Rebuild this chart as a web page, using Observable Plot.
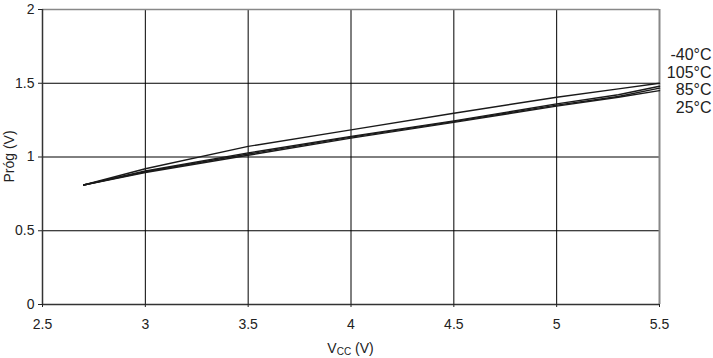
<!DOCTYPE html>
<html><head><meta charset="utf-8">
<script src="https://cdn.jsdelivr.net/npm/d3@7"></script>
<script src="https://cdn.jsdelivr.net/npm/@observablehq/plot@0.6"></script>
<style>
body{margin:0;background:#fff;}
#chart svg{display:block;}
</style>
</head><body><div id="chart"></div>
<script>
const vcc = [2.7, 3, 3.5, 4, 4.5, 5, 5.3, 5.5];
const seriesNames = ["-40°C", "105°C", "85°C", "25°C"];
const vMinus40 = [0.81, 0.92, 1.072, 1.184, 1.297, 1.405, 1.462, 1.5];
const v105 = [0.81, 0.905, 1.028, 1.14, 1.245, 1.36, 1.422, 1.48];
const v85 = [0.81, 0.9, 1.02, 1.135, 1.24, 1.352, 1.41, 1.467];
const v25 = [0.81, 0.895, 1.012, 1.128, 1.235, 1.345, 1.405, 1.45];
const xTicks = [2.5, 3, 3.5, 4, 4.5, 5, 5.5];
const yTicks = [0, 0.5, 1, 1.5, 2];

const allSeries = [vMinus40, v105, v85, v25];
const data = [];
allSeries.forEach((vals, s) => vals.forEach((v, i) => data.push({series: seriesNames[s], x: vcc[i], y: v})));

const font = "'Liberation Sans', Arial, sans-serif";
const narrow = "'Liberation Sans Narrow', 'Liberation Sans', Arial, sans-serif";
const W = 713, H = 358;
const mL = 42, mR = 54, mT = 9, mB = 54;

const labelMarks = seriesNames.map((name, i) => Plot.text([name], {
  frameAnchor: "top-right", text: d => d, dx: 52, dy: 39 + i * 17.7,
  fontSize: 16, fill: "#222", textAnchor: "end"
}));

const chart = Plot.plot({
  width: W, height: H,
  marginLeft: mL, marginRight: mR, marginTop: mT, marginBottom: mB,
  style: {fontFamily: font, fontSize: "13px", color: "#222", background: "#fff"},
  x: {domain: [2.5, 5.5], ticks: xTicks, tickFormat: d => String(d), label: null, tickSize: 3, tickPadding: 12},
  y: {domain: [0, 2], ticks: yTicks, tickFormat: d => String(d), label: null, tickSize: 4, tickPadding: 4},
  marks: [
    Plot.gridX(xTicks, {stroke: "#000", strokeOpacity: 1, strokeWidth: 1}),
    Plot.gridY(yTicks, {stroke: "#000", strokeOpacity: 1, strokeWidth: 1}),
    Plot.ruleY([2], {stroke: "#888", strokeWidth: 1.5}),
    Plot.ruleX([5.5], {stroke: "#888", strokeWidth: 2}),
    Plot.ruleX([2.5], {stroke: "#333", strokeWidth: 1.5}),
    Plot.ruleY([0], {stroke: "#333", strokeWidth: 1.5}),
    Plot.line(data, {x: "x", y: "y", z: "series", stroke: "#1a1a1a", strokeWidth: 1.4}),
    Plot.axisX(xTicks, {tickSize: 3, tickPadding: 12, tickFormat: d => String(d), fontSize: 14, fontFamily: narrow, label: null}),
    Plot.axisY(yTicks, {tickSize: 4, tickPadding: 4, tickFormat: d => String(d), fontSize: 14, fontFamily: narrow, label: null}),
    ...labelMarks
  ]
});
document.getElementById("chart").appendChild(chart);

const svg = d3.select(chart);
const xl = svg.append("text")
  .attr("x", mL + (W - mL - mR) / 2).attr("y", 353)
  .attr("text-anchor", "middle").attr("font-family", narrow).attr("font-size", 14).attr("fill", "#222");
xl.append("tspan").text("V");
xl.append("tspan").attr("font-size", 10).attr("dy", 2).text("CC");
xl.append("tspan").attr("dy", -2).text(" (V)");
svg.append("text")
  .attr("transform", `translate(14,${mT + (H - mT - mB) / 2}) rotate(-90)`)
  .attr("text-anchor", "middle").attr("font-family", font).attr("font-size", 14).attr("fill", "#222")
  .text("Próg (V)");
</script>
</body></html>
